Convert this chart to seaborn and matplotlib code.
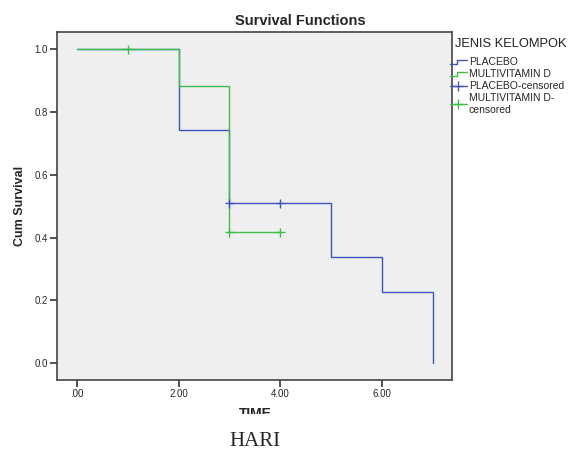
import matplotlib
matplotlib.use("Agg")
import matplotlib.pyplot as plt
import seaborn as sns
import pandas as pd
from matplotlib.lines import Line2D
from matplotlib.patches import Rectangle
from matplotlib.legend_handler import HandlerBase

# Kaplan-Meier step data
placebo_time = [0, 2, 3, 4, 5, 6, 7]
placebo_surv = [1.0, 0.743, 0.509, 0.509, 0.339, 0.226, 0.0]
placebo_cens_time = [3, 4]
placebo_cens_surv = [0.509, 0.509]

multi_time = [0, 2, 3, 4]
multi_surv = [1.0, 0.882, 0.417, 0.417]
multi_cens_time = [1, 3, 4]
multi_cens_surv = [1.0, 0.417, 0.417]

groups = ["PLACEBO", "MULTIVITAMIN D"]
x_ticks = [0, 2, 4, 6]
x_tick_labels = [".00", "2.00", "4.00", "6.00"]
y_ticks = [0.0, 0.2, 0.4, 0.6, 0.8, 1.0]

BLUE = "#3f55bd"
GREEN = "#3cbf48"
palette = {groups[0]: BLUE, groups[1]: GREEN}

steps = pd.DataFrame({
    "time": placebo_time + multi_time,
    "surv": placebo_surv + multi_surv,
    "group": [groups[0]] * len(placebo_time) + [groups[1]] * len(multi_time),
})
cens = pd.DataFrame({
    "time": placebo_cens_time + multi_cens_time,
    "surv": placebo_cens_surv + multi_cens_surv,
    "group": [groups[0]] * len(placebo_cens_time) + [groups[1]] * len(multi_cens_time),
})


class StepHandler(HandlerBase):
    # little step-shaped legend key like SPSS draws
    def create_artists(self, legend, orig_handle, xdescent, ydescent,
                       width, height, fontsize, trans):
        lo, hi = -ydescent + height * 0.1, -ydescent + height * 0.7
        xm = -xdescent + width * 0.4
        ln = Line2D([-xdescent, xm, xm, -xdescent + width], [lo, lo, hi, hi],
                    color=orig_handle.get_color(), lw=1.0, transform=trans)
        return [ln]


W, H = 574, 450


def fx(px):
    return px / W


def fy(py):
    return 1 - py / H


sns.set_style("white")
plt.rcParams["font.family"] = ["Liberation Sans", "DejaVu Sans"]

fig = plt.figure(figsize=(5.74, 4.5), dpi=100)
ax = fig.add_axes([fx(57), fy(380), fx(452) - fx(57), fy(32) - fy(380)])
ax.set_facecolor("#efefef")

sns.lineplot(data=steps, x="time", y="surv", hue="group", palette=palette,
             estimator=None, sort=False, drawstyle="steps-post",
             linewidth=1.0, legend=False, ax=ax)
sns.scatterplot(data=cens, x="time", y="surv", hue="group", palette=palette,
                marker="+", s=40, linewidth=1.0, legend=False, ax=ax, zorder=5)

ax.set_xlim(-0.394, 7.38)
ax.set_ylim(-0.054, 1.055)
ax.set_xticks(x_ticks)
ax.set_xticklabels(x_tick_labels)
ax.set_yticks(y_ticks)
ax.set_yticklabels([f"{v:.1f}" for v in y_ticks])
ax.tick_params(axis="both", direction="out", length=5, width=1.2,
               color="#333333", labelsize=7, pad=1.5, bottom=True, left=True)
ax.set_xlabel("")
ax.set_ylabel("Cum Survival", fontsize=9, fontweight="bold", labelpad=6)

for sp in ax.spines.values():
    sp.set_color("#444444")
    sp.set_linewidth(1.2)

fig.text(fx(300), fy(21), "Survival Functions", fontsize=10.5, fontweight="bold",
         ha="center", va="center")
fig.text(fx(255), fy(406.5), "TIME", fontsize=10, fontweight="bold",
         ha="center", va="top")

# legend title as separate text, entries below it
fig.text(fx(455), fy(44), "JENIS KELOMPOK", fontsize=9.3,
         ha="left", va="center", color="#222222")

pl_step = Line2D([], [], color=BLUE)
mu_step = Line2D([], [], color=GREEN)
handles = [
    pl_step,
    mu_step,
    Line2D([], [], color=BLUE, lw=1.0, marker="+", markersize=7),
    Line2D([], [], color=GREEN, lw=1.0, marker="+", markersize=7),
]
labels = ["PLACEBO", "MULTIVITAMIN D", "PLACEBO-censored", "MULTIVITAMIN D-\ncensored"]
leg = fig.legend(handles, labels, loc="upper left",
                 bbox_to_anchor=(fx(450), fy(57)),
                 frameon=False, fontsize=7.5,
                 handlelength=1.6, handletextpad=0.2,
                 labelspacing=0.2, borderaxespad=0.0, borderpad=0.0,
                 handler_map={pl_step: StepHandler(), mu_step: StepHandler()})

# the bottom of the TIME label is cut off in the original image
fig.patches.append(Rectangle((0, fy(421)), 1, 7.5 / H,
                             transform=fig.transFigure, facecolor="white",
                             edgecolor="none", zorder=10))

fig.text(fx(255), fy(441), "HARI", family=["Liberation Serif", "DejaVu Serif"],
         fontsize=15, ha="center", va="center")

fig.savefig("out.png", dpi=100, facecolor="white")
